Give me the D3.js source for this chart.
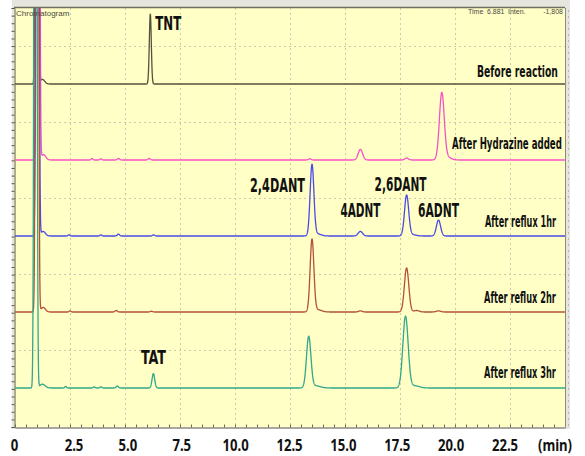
<!DOCTYPE html>
<html>
<head>
<meta charset="utf-8">
<script src="https://cdn.jsdelivr.net/npm/d3@7"></script>
<style>
  html, body { margin: 0; padding: 0; background: #ffffff; }
  svg { display: block; }
</style>
</head>
<body>
<svg id="chart" width="585" height="456"></svg>
<script>
// ---- Data -------------------------------------------------------------
// Retention-time axis labels (min)
const timeTicks = [0, 2.5, 5.0, 7.5, 10.0, 12.5, 15.0, 17.5, 20.0, 22.5];
const timeTickLabels = ["0", "2.5", "5.0", "7.5", "10.0", "12.5", "15.0", "17.5", "20.0", "22.5"];

// Chromatogram traces, top to bottom
const seriesNames = ["Before reaction", "After Hydrazine added", "After reflux 1hr", "After reflux 2hr", "After reflux 3hr"];

// Peak tables: [retention time (min), peak height (mV), peak width sigma (min)]
const peaksBeforeReaction = [
  [1.00, 2600, 0.045], [1.25, 6, 0.10],
  [6.15, 92, 0.045]
];
const peaksHydrazine = [
  [1.05, 2600, 0.045], [1.30, 7, 0.10],
  [3.50, 2.0, 0.04], [3.90, 1.5, 0.04], [4.70, 2.0, 0.05], [6.10, 2.0, 0.05],
  [13.40, 1.5, 0.06], [15.70, 14, 0.10], [17.80, 2.5, 0.08],
  [19.40, 87, 0.11], [19.62, 4, 0.18]
];
const peaksReflux1 = [
  [1.02, 2600, 0.045], [1.28, 6, 0.10],
  [2.45, 1.5, 0.04], [3.90, 1.5, 0.04], [4.70, 2.5, 0.05], [6.30, 1.5, 0.05],
  [13.50, 93, 0.085], [13.72, 3, 0.18],
  [15.70, 6, 0.10],
  [17.80, 53, 0.095], [18.02, 2, 0.18],
  [19.25, 21, 0.095]
];
const peaksReflux2 = [
  [1.00, 2600, 0.045], [1.28, 6, 0.10],
  [2.50, 1.5, 0.04], [4.60, 2.0, 0.05], [6.20, 1.0, 0.05],
  [13.50, 95, 0.085], [13.75, 3, 0.18],
  [15.70, 1.5, 0.08],
  [17.80, 58, 0.10], [18.25, 2, 0.12],
  [19.25, 1.5, 0.10]
];
const peaksReflux3 = [
  [0.93, 2600, 0.045], [1.25, 5, 0.12],
  [2.30, 2.0, 0.04], [3.60, 1.5, 0.04], [3.90, 1.5, 0.04], [4.65, 2.5, 0.05],
  [6.29, 19, 0.06],
  [13.35, 67, 0.10], [13.65, 3, 0.22],
  [17.75, 94, 0.12], [18.15, 3, 0.22]
];
const seriesPeaks = [peaksBeforeReaction, peaksHydrazine, peaksReflux1, peaksReflux2, peaksReflux3];

// Compound annotations: [label, trace index, retention time (min)]
const peakLabels = [
  ["TNT", 0, 6.15],
  ["2,4DANT", 2, 13.50],
  ["4ADNT", 2, 15.70],
  ["2,6DANT", 2, 17.80],
  ["6ADNT", 2, 19.25],
  ["TAT", 4, 6.29]
];

// ---- Styles & layout --------------------------------------------------
const seriesColors = ["#54543e", "#f651c6", "#4a4ae8", "#b4503c", "#2fa88b"];
const labelLayout = {        // offsets from the peak apex / trace baseline
  "TNT":     { dx: 5,  dy: -54, anchor: "start",  width: 26 },
  "2,4DANT": { dx: -7, dy: -44, anchor: "end",    width: 55 },
  "4ADNT":   { dx: 0,  dy: -19, anchor: "middle", width: 40 },
  "2,6DANT": { dx: -6, dy: -45, anchor: "middle", width: 52 },
  "6ADNT":   { dx: 0,  dy: -19, anchor: "middle", width: 41 },
  "TAT":     { dx: 0,  dy: -24, anchor: "middle", width: 25 }
};
const seriesLabelLayout = [
  { right: 558, dy: -7,  width: 81 },
  { right: 562, dy: -11, width: 110 },
  { right: 556, dy: -9,  width: 71 },
  { right: 556, dy: -9,  width: 72 },
  { right: 556, dy: -10, width: 72 }
];

const plot = { left: 14, right: 565, top: 8, bottom: 427 };
const trackH = 76;

const svg = d3.select("#chart");

// ---- Scales -----------------------------------------------------------
const x = d3.scaleLinear().domain([0, 25]).range([15, 565]);
// tick labels sit slightly off the grid, as in the exported figure
const xLabel = d3.scaleLinear().domain([0, 2.5, 22.5]).range([14.5, 74, 505]);
const baseY = d3.scalePoint().domain(d3.range(seriesNames.length))
  .range([plot.top + trackH, plot.top + trackH * 5]);
const intensity = d3.scaleLinear().domain([0, 100]).range([0, trackH]);
const panelY = d3.scaleLinear().domain([0, 5.5]).range([plot.bottom, plot.top]);

// ---- Frame ------------------------------------------------------------
svg.append("rect")
  .attr("x", 12).attr("y", 0).attr("width", 558).attr("height", 429)
  .attr("fill", "#e6e6de");
svg.append("rect")
  .attr("x", plot.left).attr("y", plot.top)
  .attr("width", plot.right - plot.left).attr("height", plot.bottom - plot.top)
  .attr("fill", "#ffffc6");

// dotted grid
const grid = svg.append("g").attr("stroke", "#c9c9b4").attr("stroke-width", 1)
  .attr("stroke-dasharray", "2,3");
grid.selectAll("line.v").data(timeTicks.filter(d => d > 0)).join("line")
  .attr("x1", d => Math.round(x(d)) + 0.5).attr("x2", d => Math.round(x(d)) + 0.5)
  .attr("y1", plot.top).attr("y2", plot.bottom);
grid.selectAll("line.h").data(d3.range(5).map(i => i + 0.5)).join("line")
  .attr("x1", plot.left).attr("x2", plot.right)
  .attr("y1", d => Math.round(plot.top + trackH * d) + 0.5)
  .attr("y2", d => Math.round(plot.top + trackH * d) + 0.5);

// outer faint dotted edge on the right
svg.append("line")
  .attr("x1", 568.5).attr("x2", 568.5).attr("y1", 10).attr("y2", plot.bottom)
  .attr("stroke", "#b8b8b0").attr("stroke-dasharray", "2,4");

// ---- Axes (tick marks only) ------------------------------------------
const leftAxis = d3.axisLeft(panelY)
  .tickValues(d3.range(0, 5.51, 0.1))
  .tickSize(3).tickFormat("");
svg.append("g").attr("transform", `translate(${plot.left + 0.5},0)`)
  .call(leftAxis)
  .call(g => g.selectAll("line,path").attr("stroke", "#5c5c50"));

const bottomAxis = d3.axisBottom(x)
  .tickValues(d3.range(0, 25.01, 0.5))
  .tickSize(-3).tickSizeOuter(0).tickFormat("");
svg.append("g").attr("transform", `translate(0,${plot.bottom + 0.5})`)
  .call(bottomAxis)
  .call(g => g.selectAll("line,path").attr("stroke", "#6a6a5e"));

// top & right borders
svg.append("line").attr("x1", plot.left).attr("x2", plot.right)
  .attr("y1", plot.top - 0.5).attr("y2", plot.top - 0.5)
  .attr("stroke", "#707062").attr("stroke-width", 1.5);
svg.append("line").attr("x1", plot.right + 0.5).attr("x2", plot.right + 0.5)
  .attr("y1", plot.top).attr("y2", plot.bottom)
  .attr("stroke", "#8a8a7c").attr("stroke-width", 1);

// ---- Traces -----------------------------------------------------------
svg.append("clipPath").attr("id", "plot-clip")
  .append("rect")
  .attr("x", plot.left).attr("y", plot.top)
  .attr("width", plot.right - plot.left).attr("height", plot.bottom - plot.top);

const sampleTimes = d3.range(0, 25.0001, 0.005);
function signalAt(peaks, t) {
  let s = 0;
  for (const [t0, h, w] of peaks) {
    const z = (t - t0) / w;
    if (Math.abs(z) < 8) s += h * Math.exp(-0.5 * z * z);
  }
  return s;
}

const traces = svg.append("g").attr("clip-path", "url(#plot-clip)");
seriesPeaks.forEach((peaks, i) => {
  const y0 = baseY(i);
  const line = d3.line()
    .x(t => x(t))
    .y(t => y0 - intensity(signalAt(peaks, t)));
  traces.append("path")
    .datum(sampleTimes)
    .attr("d", line)
    .attr("fill", "none")
    .attr("stroke", seriesColors[i])
    .attr("stroke-width", 1.3)
    .attr("stroke-linejoin", "round");
});

// ---- Text -------------------------------------------------------------
const condensed = "'Liberation Sans Narrow', 'Arial Narrow', 'DejaVu Sans Condensed', 'Liberation Sans', sans-serif";

// Squeeze a text horizontally so that its left edge sits at `left` and it spans `width`
function fitText(sel, left, baseline, width) {
  const node = sel.node();
  const natural = node.getComputedTextLength();
  const sx = natural > 0 ? width / natural : 1;
  sel.attr("x", 0).attr("y", 0)
    .attr("transform", `translate(${left},${baseline}) scale(${sx},1)`);
}

// software header
svg.append("text").attr("x", 16).attr("y", 16)
  .attr("font-family", "'Liberation Sans', sans-serif").attr("font-size", 8)
  .attr("fill", "#4a4a42").text("Chromatogram");
const header = [["Time", 468, "start"], ["6.881", 487, "start"], ["Inten.", 508, "start"], ["-1,808", 563, "end"]];
svg.append("g").selectAll("text").data(header).join("text")
  .attr("x", d => d[1]).attr("y", 14)
  .attr("text-anchor", d => d[2])
  .attr("font-family", "'Liberation Sans', sans-serif").attr("font-size", 7)
  .attr("fill", "#4a4a42").text(d => d[0]);

// trace names
svg.append("g").selectAll("text").data(seriesNames).join("text")
  .attr("font-family", condensed).attr("font-weight", "bold")
  .attr("font-size", 15).attr("fill", "#111")
  .text(d => d)
  .each(function (d, i) {
    const L = seriesLabelLayout[i];
    fitText(d3.select(this), L.right - L.width, baseY(i) + L.dy, L.width);
  });

// compound names
svg.append("g").selectAll("text").data(peakLabels).join("text")
  .attr("font-family", condensed).attr("font-weight", "bold")
  .attr("font-size", 19).attr("fill", "#111")
  .text(d => d[0])
  .each(function ([name, si, t]) {
    const L = labelLayout[name];
    const cx = x(t) + L.dx;
    const left = L.anchor === "start" ? cx : L.anchor === "end" ? cx - L.width : cx - L.width / 2;
    fitText(d3.select(this), left, baseY(si) + L.dy, L.width);
  });

// time axis labels
const axisFont = "'Noto Sans', 'Open Sans', 'DejaVu Sans', sans-serif";
svg.append("g").selectAll("text").data(timeTicks).join("text")
  .attr("transform", d => `translate(${xLabel(d)},451) scale(0.82,1)`)
  .attr("text-anchor", "middle")
  .attr("font-family", axisFont).attr("font-weight", "bold")
  .attr("font-size", 16).attr("fill", "#111")
  .text((d, i) => timeTickLabels[i]);
svg.append("text")
  .attr("transform", "translate(555,451) scale(0.82,1)")
  .attr("text-anchor", "middle")
  .attr("font-family", axisFont).attr("font-weight", "bold")
  .attr("font-size", 16).attr("fill", "#111")
  .text("(min)");
</script>
</body>
</html>
